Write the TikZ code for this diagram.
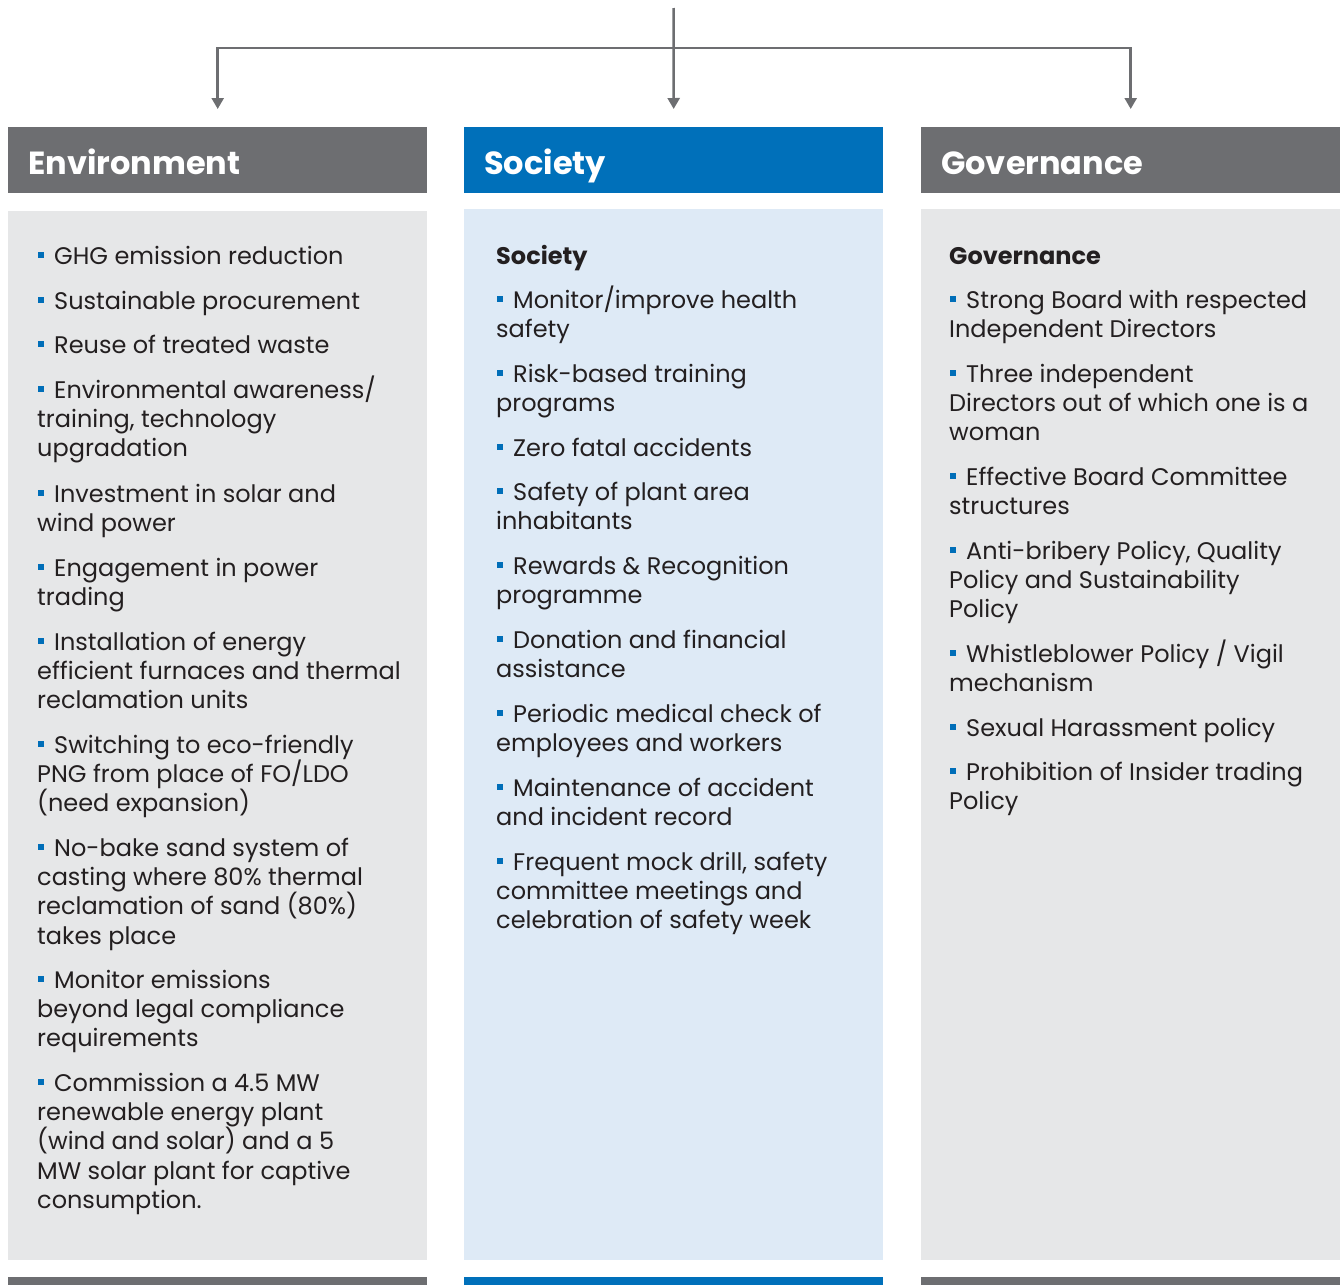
\documentclass[tikz,border=0pt]{standalone}
\usepackage{fontspec}
\setmainfont{Poppins}
\usetikzlibrary{arrows.meta}
\definecolor{hdrgray}{RGB}{109,110,113}
\definecolor{hdrblue}{RGB}{0,112,186}
\definecolor{bodygray}{RGB}{230,231,232}
\definecolor{bodyblue}{RGB}{222,234,246}
\definecolor{bulblue}{RGB}{0,110,184}
\definecolor{txtcol}{RGB}{35,31,32}
\newcommand\bul{\hspace{1pt}\textcolor{bulblue}{\rule[6.5pt]{6pt}{6pt}}\hspace{10pt}}
\newcommand\myl[1]{\hbox{#1}}
\newcommand\itm[4]{\node[txt] (#1) at (#2,#3) {\vtop{#4}};}
\begin{document}
\begin{tikzpicture}[x=1pt,y=-1pt,
  txt/.style={anchor=base west,inner sep=0pt,text=txtcol,font=\fontsize{24}{29.4}\selectfont},
  hdr/.style={anchor=north west,minimum width=419pt,minimum height=66pt,inner xsep=20pt,inner ysep=0pt,
    text width=379pt,align=left,text height=28pt,text depth=0pt,text=white,font=\fontsize{32}{36}\selectfont\bfseries},
  bodybox/.style={anchor=north west,minimum width=419pt,inner sep=0pt},
  bar/.style={anchor=north west,minimum width=419pt,minimum height=8pt,inner sep=0pt},
  conn/.style={draw=hdrgray,line width=2.5pt,-{Triangle[width=12pt,length=11pt]},shorten >=18pt}]
\useasboundingbox (0,0) rectangle (1340,1285);
% headers
\node[hdr,fill=hdrgray] (envh) at (8,127) {Environment};
\node[hdr,fill=hdrblue] (soch) at (464,127) {Society};
\node[hdr,fill=hdrgray] (govh) at (921,127) {Governance};
% bodies
\node[bodybox,fill=bodygray,minimum height=1049pt] (envb) at (8,211) {};
\node[bodybox,fill=bodyblue,minimum height=1051pt] (socb) at (464,209) {};
\node[bodybox,fill=bodygray,minimum height=1051pt] (govb) at (921,209) {};
% bottom bars
\node[bar,fill=hdrgray] (envbar) at (8,1277) {};
\node[bar,fill=hdrblue] (socbar) at (464,1277) {};
\node[bar,fill=hdrgray] (govbar) at (921,1277) {};
% connectors
\coordinate (top) at (673.5,8);
\coordinate (junc) at (673.5,48);
\draw[conn] (top) -- (soch.north);
\draw[conn] (junc) -| (envh.north);
\draw[conn] (junc) -| (govh.north);
% Environment items
\itm{e1}{37}{264}{\myl{\bul GHG emission reduction}}
\itm{e2}{37}{309}{\myl{\bul Sustainable procurement}}
\itm{e3}{37}{353}{\myl{\bul Reuse of treated waste}}
\itm{e4}{37}{398}{\myl{\bul Environmental awareness/}\myl{training, technology}\myl{upgradation}}
\itm{e5}{37}{502}{\myl{\bul Investment in solar and}\myl{wind power}}
\itm{e6}{37}{576}{\myl{\bul Engagement in power}\myl{trading}}
\itm{e7}{37}{650}{\myl{\bul Installation of energy}\myl{efficient furnaces and thermal}\myl{reclamation units}}
\itm{e8}{37}{753}{\myl{\bul Switching to eco-friendly}\myl{PNG from place of FO/LDO}\myl{(need expansion)}}
\itm{e9}{37}{856}{\myl{\bul No-bake sand system of}\myl{casting where 80\% thermal}\myl{reclamation of sand (80\%)}\myl{takes place}}
\itm{e10}{37}{988}{\myl{\bul Monitor emissions}\myl{beyond legal compliance}\myl{requirements}}
\itm{e11}{37}{1091}{\myl{\bul Commission a 4.5 MW}\myl{renewable energy plant}\myl{(wind and solar) and a 5}\myl{MW solar plant for captive}\myl{consumption.}}
% Society items
\itm{s0}{496}{264}{\myl{\bfseries Society}}
\itm{s1}{496}{308}{\myl{\bul Monitor/improve health}\myl{safety}}
\itm{s2}{496}{382}{\myl{\bul Risk-based training}\myl{programs}}
\itm{s3}{496}{456}{\myl{\bul Zero fatal accidents}}
\itm{s4}{496}{500}{\myl{\bul Safety of plant area}\myl{inhabitants}}
\itm{s5}{496}{574}{\myl{\bul Rewards \& Recognition}\myl{programme}}
\itm{s6}{496}{648}{\myl{\bul Donation and financial}\myl{assistance}}
\itm{s7}{496}{722}{\myl{\bul Periodic medical check of}\myl{employees and workers}}
\itm{s8}{496}{796}{\myl{\bul Maintenance of accident}\myl{and incident record}}
\itm{s9}{496}{870}{\myl{\bul Frequent mock drill, safety}\myl{committee meetings and}\myl{celebration of safety week}}
% Governance items
\itm{g0}{949}{264}{\myl{\bfseries Governance}}
\itm{g1}{949}{308}{\myl{\bul Strong Board with respected}\myl{Independent Directors}}
\itm{g2}{949}{382}{\myl{\bul Three independent}\myl{Directors out of which one is a}\myl{woman}}
\itm{g3}{949}{485}{\myl{\bul Effective Board Committee}\myl{structures}}
\itm{g4}{949}{559}{\myl{\bul Anti-bribery Policy, Quality}\myl{Policy and Sustainability}\myl{Policy}}
\itm{g5}{949}{662}{\myl{\bul Whistleblower Policy / Vigil}\myl{mechanism}}
\itm{g6}{949}{736}{\myl{\bul Sexual Harassment policy}}
\itm{g7}{949}{780}{\myl{\bul Prohibition of Insider trading}\myl{Policy}}
\end{tikzpicture}
\end{document}
